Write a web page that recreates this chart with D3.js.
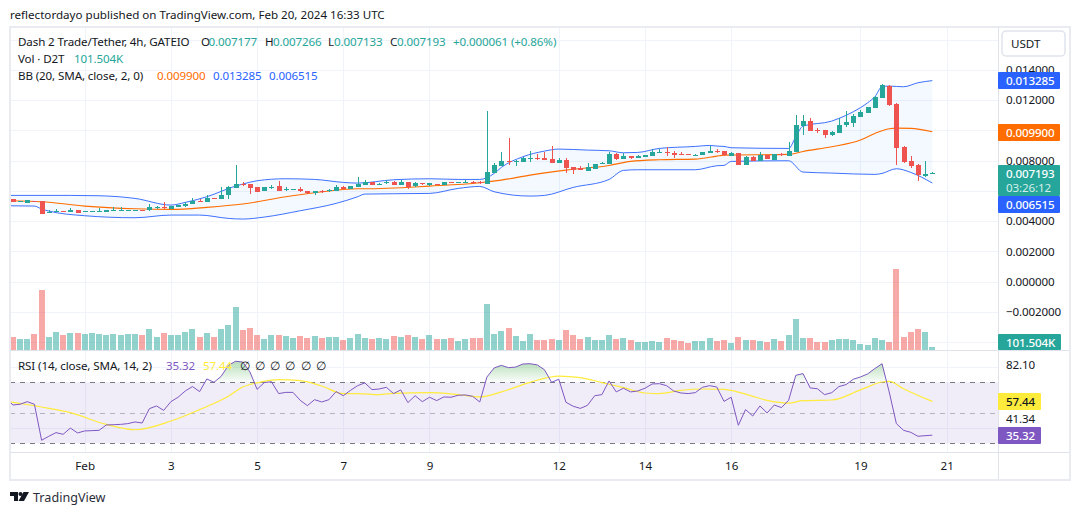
<!DOCTYPE html>
<html><head><meta charset="utf-8">
<script src="https://cdn.jsdelivr.net/npm/d3@7"></script>
<style>
html,body{margin:0;padding:0;background:#fff;}
svg{display:block;}
text{font-family:"Noto Sans",sans-serif;}
</style></head><body><svg id="c" width="1080" height="515"></svg>
<script>
// ---- DATA (prices in millionths of a USDT, first bar index -10 = 4h bars relative to Feb 1 00:00) ----
const firstBar = -10;
const opens = [5455,5301,5213,5323,5323,4574,4640,4640,4574,4729,
4618,4618,4640,4618,4685,4685,4685,4685,4729,4685,
4883,4905,4795,4927,5015,5147,5345,5235,5521,5455,
5675,6204,6468,6446,6248,5962,6226,6314,6072,6072,
6094,5962,5808,6006,6006,6006,6248,6094,6248,6380,
6600,6446,6556,6578,6380,6578,6292,6490,6380,6468,
6358,6578,6534,6534,6556,6556,6468,7173,7635,7966,
7944,7900,8120,8164,8164,8098,7833,8032,7547,7503,
7305,7437,7767,7767,8428,8098,8296,8164,8230,8296,
8538,8560,8494,8428,8428,8340,8362,8494,8604,8605,
8319,8495,7724,8231,7988,8363,8032,8429,8319,8561,
10279,10610,10037,10015,9685,9817,10345,10478,10874,11138,
11469,12130,12923,11733,8891,7966,7702,6975,7177];
const highs = [5455,5323,5389,5323,5323,4707,4773,4640,4839,4729,
4640,4640,4861,4729,4905,4905,4707,4707,4729,5103,
4993,5235,5015,5081,5235,5499,5433,5698,5521,6248,
6314,7702,6579,6446,6248,6226,6380,6623,6248,6094,
6248,5962,6006,6050,6094,6358,6292,6292,6909,6710,
6600,6534,6688,6666,6688,6578,6578,6490,6490,6468,
6578,6578,6556,6710,6644,6622,11270,7811,8560,9486,
8032,8208,8604,8450,8582,8957,8164,8164,7547,7635,
7833,7767,7900,8560,8494,8516,8296,8362,8362,8737,
8737,8891,8626,8560,8428,8428,8560,8957,8759,8605,
8561,8495,8297,8297,8561,8363,8429,8473,9222,11006,
11006,10786,10125,10015,9949,10786,11271,11072,11337,11535,
12262,13055,12989,11777,8958,8297,7746,7966,7266];
const lows = [5257,5301,5213,5279,4486,4552,4596,4596,4574,4530,
4618,4618,4640,4618,4685,4685,4685,4685,4685,4685,
4817,4795,4795,4927,4949,5147,5235,5235,5477,5455,
5477,6204,6336,5786,5940,5962,6138,6006,6006,6072,
5940,5808,5742,5874,5940,6006,6094,6094,6248,6380,
6380,6380,6468,6380,6380,6115,6247,6402,6314,6424,
6358,6534,6534,6490,6468,6446,6468,7173,7635,7701,
7635,7900,7900,8032,8032,7833,7833,7195,7129,7371,
7305,7437,7767,7767,8032,8098,8098,8164,8230,8296,
8516,8296,8164,8406,8384,8296,8362,8494,8494,8319,
8319,7680,7724,7944,7988,8120,8032,8297,8319,8561,
9685,9949,9817,9486,9618,9817,10213,10213,10874,11138,
11469,12130,11601,7702,7834,7503,6644,6931,7133];
const closes = [5257,5323,5389,5279,4486,4596,4663,4618,4729,4530,
4640,4640,4685,4729,4729,4729,4707,4707,4685,4905,
4905,4861,5015,5081,5147,5323,5301,5499,5477,5698,
6226,6446,6424,6182,5940,6226,6248,6006,6094,6094,
5940,5808,5962,5962,6028,6248,6094,6292,6446,6578,
6380,6468,6578,6380,6578,6269,6512,6402,6490,6424,
6578,6534,6556,6556,6512,6512,7239,7701,7966,7922,
7966,8164,8142,8120,8032,7833,8032,7503,7371,7371,
7547,7767,7811,8428,8098,8296,8164,8296,8362,8560,
8560,8516,8362,8406,8384,8362,8560,8626,8560,8319,
8495,7680,8231,7944,8363,8120,8429,8385,8627,10345,
10610,9949,9993,9685,9883,10345,10544,10940,11205,11535,
12196,12989,11645,8825,7878,7636,7019,7107,7193];
const volumes = [440,372,372,541,2030,440,609,508,575,575,
541,575,541,508,541,508,541,541,508,711,
440,575,508,508,609,711,440,575,440,711,
846,1455,677,744,508,372,508,508,474,406,
474,406,474,406,440,440,338,406,541,
406,372,406,372,474,440,508,440,372,508,
372,372,406,305,372,406,406,1557,541,643,
744,474,305,541,338,338,372,338,677,508,
372,440,338,338,508,372,406,338,271,271,
305,271,406,338,305,237,305,305,406,305,
338,237,440,338,338,305,271,372,305,508,
1049,406,406,271,271,338,372,372,338,203,
169,406,338,271,2741,440,609,711,609,101.504];
const rsiPrior = 60.2;
const rsi = [55.1,55.6,57.3,55.6,32.0,34.6,37.0,35.9,40.0,36.8,
38.1,38.3,38.5,42.0,42.2,42.4,42.9,44.0,43.3,52.7,
54.5,51.6,57.3,60.2,64.3,67.2,63.9,72.2,70.0,73.9,
81.1,83.8,83.3,76.8,65.4,69.8,70.4,62.6,63.4,63.4,
58.2,54.7,58.6,57.1,58.6,63.9,61.2,64.7,67.8,
69.6,65.2,65.6,66.7,62.6,65.0,56.7,61.2,57.3,60.2,
58.0,60.4,60.2,61.5,61.7,60.8,57.1,73.5,79.4,81.1,
79.6,80.0,82.0,82.2,81.4,78.3,70.0,72.0,56.9,54.3,
52.9,54.9,61.2,61.9,70.9,63.7,66.1,63.7,64.3,66.1,
68.9,69.1,67.8,64.3,63.0,62.6,63.2,66.7,67.8,66.9,
57.5,60.2,41.8,52.1,47.9,54.5,49.9,55.1,53.4,58.2,
74.6,75.7,66.3,65.8,61.9,63.2,67.2,68.5,72.0,73.5,
75.5,79.0,82.2,63.7,42.9,38.5,37.2,34.6,35.0,35.32];
// Bands and the RSI average are read at the bars where their shape changes
const bbUpperBars = [-11,-2,2,7,12,14,17,21,22,24,28,32,36,38,43,48,52,55,57,58,61,64,66,70,73,75,77,80,85,87,88,89,90,98,99,100,104,105,107,109,110,111,112,114,116,118];
const bbUpper = [5698,5698,5675,5499,5059,5235,5609,6314,6446,6667,6799,6755,6557,6512,6732,6798,6754,6754,7150,7547,8252,8626,8759,8693,8648,8516,8538,8803,8935,9001,8957,8936,8848,8803,9574,10279,10610,10786,11227,11821,12218,12879,12923,12879,13143,13285];
const bbLowerBars = [-11,-7,-6,-5,0,7,12,16,20,22,25,30,35,38,39,43,48,52,55,57,62,64,68,73,75,77,85,88,89,90,98,100,104,110,111,113,115,118];
const bbLower = [5015,4993,4795,4663,4354,4221,4398,4398,4178,4133,4265,4684,5169,5609,5785,5807,5829,6159,6291,5939,5652,5696,6225,6754,7349,7393,7393,7657,7680,7944,7988,7239,7173,7085,7151,7460,7217,6515];
const bbBasisBars = [-11,-6,0,7,12,17,22,28,32,38,39,48,55,58,62,67,73,76,80,85,88,89,98,100,104,108,110,112,113,115,118];
const bbBasis = [5345,5279,4992,4816,4772,4905,5125,5609,5874,6138,6137,6314,6534,6710,7040,7371,7679,7944,8054,8098,8296,8363,8407,8605,8913,9354,9795,10103,10147,10125,9900];
const rsiMaBars = [-11,-6,-2,3,7,12,16,20,22,24,27,30,33,36,38,41,43,48,52,55,58,62,66,69,72,75,78,80,83,86,89,90,93,95,98,100,104,108,111,112,114,118];
const rsiMa = [57.6,53.8,50.1,42.4,38.9,44.6,52.1,60.8,66.9,69.6,71.7,71.1,67.6,62.6,62.6,61.9,62.8,63.2,61.9,60.4,63.7,70.0,74.1,73.1,69.8,66.5,63.0,62.6,64.7,65.6,65.4,64.7,60.8,58.2,56.4,58.0,58.4,65.0,70.2,70.6,65.8,57.44];
const priceGrid = [16000,14000,12000,10000,8000,6000,4000,2000,0,-2000,-4000];
const priceTicks = [14000,12000,8000,4000,2000,0,-2000];
const rsiGrid = [80,40];
const rsiLevels = [70,50,30];
const dayTicks = [1,3,5,7,9,12,14,16,19,21];
const dayLabels = ["Feb","3","5","7","9","12","14","16","19","21"];

const up="#26a69a", down="#ef5350", blue="#2962ff", orange="#ff6d00", purple="#7e57c2", yellow="#ffeb3b", ink="#131722";
const frame="#e9ebf1", grid="#f0f3fa", sep="#e0e3eb";
const F=11.6, LS="-0.12px";

const svg=d3.select("#c");
svg.append("rect").attr("width",1080).attr("height",515).attr("fill","#fff");

const bars=d3.range(opens.length).map(i=>i+firstBar);
const x=d3.scaleLinear().domain([0,118]).range([84.7,932.3]);
const yP=d3.scaleLinear().domain([0,14000]).range([281.6,69.8]);
const yV=d3.scaleLinear().domain([0,2741]).range([350,269]);
const yR=d3.scaleLinear().domain([30,70]).range([443.3,382.3]);
const dayBar=d=>(d-1)*6;
const L=10, R=998, T=27, B=452;

const defs=svg.append("defs");
const g=defs.append("linearGradient").attr("id","ob").attr("gradientUnits","userSpaceOnUse")
  .attr("x1",0).attr("x2",0).attr("y1",yR(84)).attr("y2",yR(70));
g.append("stop").attr("offset",0).attr("stop-color","#4caf50").attr("stop-opacity",.42);
g.append("stop").attr("offset",1).attr("stop-color","#4caf50").attr("stop-opacity",.02);
defs.append("clipPath").attr("id","above70").append("rect").attr("x",L).attr("y",351).attr("width",R-L).attr("height",yR(70)-351);
defs.append("clipPath").attr("id","pane").append("rect").attr("x",L).attr("y",T).attr("width",R-L).attr("height",B-T);

// grid
const gg=svg.append("g").attr("shape-rendering","crispEdges").attr("stroke",grid).attr("stroke-width",1);
gg.selectAll("line.h").data(priceGrid).join("line").attr("x1",L).attr("x2",R).attr("y1",d=>Math.round(yP(d))).attr("y2",d=>Math.round(yP(d)));
gg.append("g").selectAll("line").data(rsiGrid).join("line").attr("x1",L).attr("x2",R).attr("y1",d=>Math.round(yR(d))).attr("y2",d=>Math.round(yR(d)));
gg.append("g").selectAll("line").data(dayTicks).join("line").attr("x1",d=>Math.round(x(dayBar(d)))).attr("x2",d=>Math.round(x(dayBar(d)))).attr("y1",T).attr("y2",B);

// RSI band
svg.append("rect").attr("x",L).attr("width",R-L).attr("y",yR(70)).attr("height",yR(30)-yR(70)).attr("fill",purple).attr("fill-opacity",.11);
svg.append("g").selectAll("line").data(rsiLevels).join("line").attr("x1",L).attr("x2",R)
  .attr("y1",d=>Math.round(yR(d))+.5).attr("y2",d=>Math.round(yR(d))+.5)
  .attr("stroke","#787b86").attr("stroke-opacity",d=>d===50?.5:1).attr("stroke-dasharray","5 5").attr("stroke-width",1);

// Bollinger
const pts=(b,v)=>b.map((d,i)=>[x(d),yP(v[i])]);
const ln=d3.line().curve(d3.curveMonotoneX);
const upP=pts(bbUpperBars,bbUpper), loP=pts(bbLowerBars,bbLower), baP=pts(bbBasisBars,bbBasis);
const band=d3.line()(upP)+"L"+d3.line()(loP.slice().reverse()).slice(1)+"Z";
const bb=svg.append("g").attr("clip-path","url(#pane)");
bb.append("path").attr("d",band).attr("fill","#2196f3").attr("fill-opacity",.055);
bb.append("path").attr("d",ln(upP)).attr("fill","none").attr("stroke",blue).attr("stroke-width",1).attr("stroke-opacity",.9);
bb.append("path").attr("d",ln(loP)).attr("fill","none").attr("stroke",blue).attr("stroke-width",1).attr("stroke-opacity",.9);
bb.append("path").attr("d",ln(baP)).attr("fill","none").attr("stroke",orange).attr("stroke-width",1.1);

// candles
const cg=svg.append("g").attr("shape-rendering","crispEdges");
const isUp=i=>closes[i]>=opens[i];
cg.selectAll("line").data(bars).join("line")
  .attr("x1",d=>Math.round(x(d))+.5).attr("x2",d=>Math.round(x(d))+.5)
  .attr("y1",(d,i)=>yP(highs[i])).attr("y2",(d,i)=>yP(lows[i]))
  .attr("stroke",(d,i)=>isUp(i)?up:down);
cg.selectAll("rect").data(bars).join("rect")
  .attr("x",d=>Math.round(x(d))-2).attr("width",5)
  .attr("y",(d,i)=>Math.round(yP(Math.max(opens[i],closes[i]))))
  .attr("height",(d,i)=>Math.max(1,Math.round(Math.abs(yP(opens[i])-yP(closes[i])))))
  .attr("fill",(d,i)=>isUp(i)?up:down);

// volume
svg.append("g").attr("shape-rendering","crispEdges").selectAll("rect").data(bars).join("rect")
  .attr("x",d=>Math.round(x(d))-3).attr("width",6)
  .attr("y",(d,i)=>yV(volumes[i])).attr("height",(d,i)=>350-yV(volumes[i]))
  .attr("fill",(d,i)=>isUp(i)?up:down).attr("fill-opacity",.5);

// RSI
const rP=[[x(firstBar-1),yR(rsiPrior)]].concat(rsi.map((v,i)=>[x(bars[i]),yR(v)]));
const rArea=d3.area().x(d=>d[0]).y0(yR(70)).y1(d=>d[1]);
svg.append("path").attr("d",rArea(rP)).attr("fill","url(#ob)").attr("clip-path","url(#above70)");
const rg=svg.append("g").attr("clip-path","url(#pane)");
rg.append("path").attr("d",ln(rsiMaBars.map((b,i)=>[x(b),yR(rsiMa[i])]))).attr("fill","none").attr("stroke",yellow).attr("stroke-width",1.2);
rg.append("path").attr("d",d3.line()(rP)).attr("fill","none").attr("stroke",purple).attr("stroke-width",1);

// panel frame
const fr=svg.append("g").attr("shape-rendering","crispEdges");
fr.append("rect").attr("x",10).attr("y",27).attr("width",1060).attr("height",453).attr("fill","none").attr("stroke",frame).attr("stroke-width",2);
fr.append("line").attr("x1",L).attr("x2",1069).attr("y1",350.5).attr("y2",350.5).attr("stroke",sep);
fr.append("line").attr("x1",L).attr("x2",1069).attr("y1",452.5).attr("y2",452.5).attr("stroke",sep);
fr.append("line").attr("x1",998.5).attr("x2",998.5).attr("y1",27).attr("y2",479).attr("stroke",sep);

// axes
const pa=svg.append("g").attr("transform","translate(998,0)").call(d3.axisRight(yP).tickValues(priceTicks).tickSize(0).tickPadding(8)
   .tickFormat(d=>(d<0?"\u2212":"")+(Math.abs(d)/1e6).toFixed(6)));
pa.select(".domain").remove();
pa.selectAll("text").attr("font-size",F).attr("fill",ink).attr("font-family",'"Noto Sans",sans-serif').style("letter-spacing",LS);
const ta=svg.append("g").attr("transform","translate(0,452)").call(d3.axisBottom(x).tickValues(dayTicks.map(dayBar)).tickSize(0).tickPadding(10)
   .tickFormat((d,i)=>dayLabels[i]));
ta.select(".domain").remove();
ta.selectAll("text").attr("font-size",F).attr("fill",ink).attr("font-family",'"Noto Sans",sans-serif');

// header
svg.append("text").attr("x",10).attr("y",19).attr("font-size",F).attr("fill",ink).text("reflectordayo published on TradingView.com, Feb 20, 2024 16:33 UTC");

function legend(y,parts){
  parts.forEach(p=>svg.append("text").attr("x",p[2]).attr("y",y).attr("font-size",F).attr("fill",p[1]).style("letter-spacing",LS).text(p[0]));
}
const lt=up;
legend(46,[["Dash 2 Trade/Tether, 4h, GATEIO",ink,18],["O",ink,201],["0.007177",lt,208.5],["H",ink,265],["0.007266",lt,273],["L",ink,328],["0.007133",lt,334],["C",ink,390],["0.007193",lt,397],["+0.000061 (+0.86%)",lt,453]]);
legend(63,[["Vol \u00b7 D2T",ink,18],["101.504K",lt,74]]);
legend(80,[["BB (20, SMA, close, 2, 0)",ink,18],["0.009900",orange,157],["0.013285",blue,213],["0.006515",blue,269]]);
legend(370,[["RSI (14, close, SMA, 14, 2)",ink,18],["35.32",purple,166],["57.44",yellow,203],["\u2205",ink,240],["\u2205",ink,255],["\u2205",ink,270],["\u2205",ink,285],["\u2205",ink,301],["\u2205",ink,316]]);

// USDT button
svg.append("rect").attr("x",1002).attr("y",31).attr("width",63).attr("height",25).attr("rx",4).attr("fill","#fff").attr("stroke",sep).attr("stroke-width",1.5);
svg.append("text").attr("x",1011).attr("y",48).attr("font-size",F).attr("fill",ink).text("USDT");

// price labels
function tag(y,h,w,fill,lines,color){
  svg.append("rect").attr("x",998).attr("y",y).attr("width",w).attr("height",h).attr("rx",1).attr("fill",fill);
  lines.forEach(l=>svg.append("text").attr("x",1006).attr("y",y+l[1]).attr("font-size",F).attr("fill",l[2]||color).attr("font-weight",l[3]||500).style("letter-spacing",LS).text(l[0]));
}
tag(72,17,62,blue,[["0.013285",13]],"#fff");
tag(124,17,62,orange,[["0.009900",13]],"#fff");
tag(165,31,62,up,[["0.007193",12.5],["03:26:12",26.5,"#d4eeeb",400]],"#fff");
tag(196,17,62,blue,[["0.006515",13]],"#fff");
tag(334,16,63,up,[["101.504K",13]],"#fff");
tag(393,17,43,yellow,[["57.44",13]],ink);
tag(427,17,43,purple,[["35.32",13]],"#fff");
svg.append("text").attr("x",1006).attr("y",369).attr("font-size",F).attr("fill",ink).style("letter-spacing",LS).text("82.10");
svg.append("text").attr("x",1006).attr("y",423).attr("font-size",F).attr("fill",ink).style("letter-spacing",LS).text("41.34");

// logo
const lg=svg.append("g").attr("transform","translate(10,492)").attr("fill",ink);
lg.append("path").attr("d","M0 0H8V9H4V4H0Z");
lg.append("circle").attr("cx",10.5).attr("cy",2).attr("r",2);
lg.append("path").attr("d","M13.5 0H19L14 9H8.5Z");
svg.append("text").attr("x",33).attr("y",502).attr("font-size",12.6).attr("fill","#2a2e39").text("TradingView");
</script></body></html>
